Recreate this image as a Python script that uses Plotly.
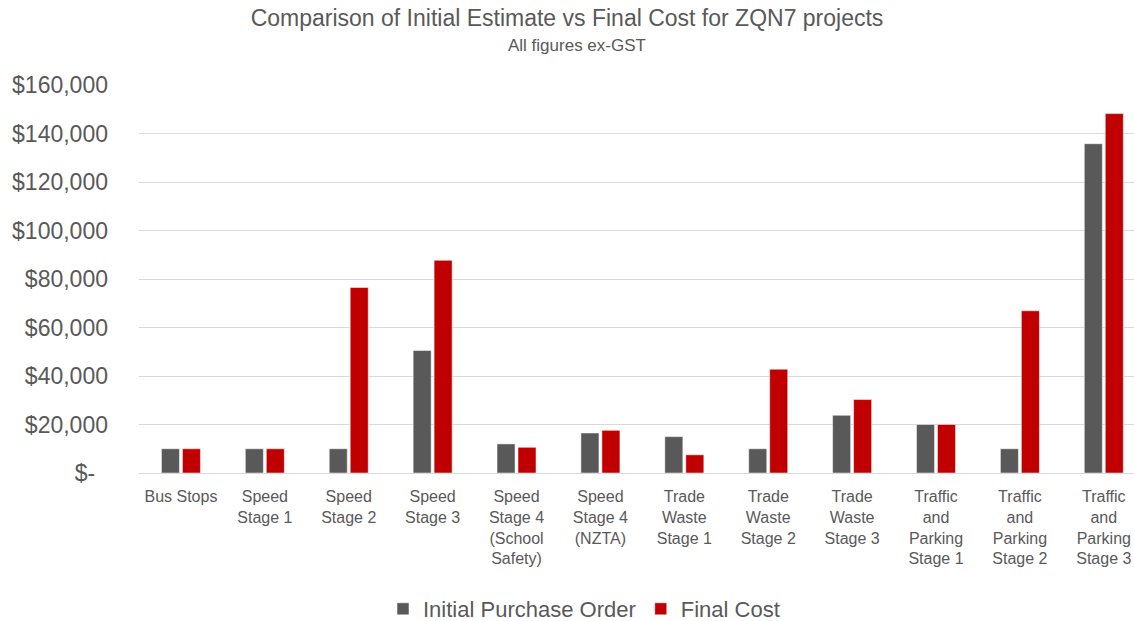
import plotly.graph_objects as go

categories = ["Bus Stops", "Speed Stage 1", "Speed Stage 2", "Speed Stage 3",
              "Speed Stage 4 (School Safety)", "Speed Stage 4 (NZTA)",
              "Trade Waste Stage 1", "Trade Waste Stage 2", "Trade Waste Stage 3",
              "Traffic and Parking Stage 1", "Traffic and Parking Stage 2",
              "Traffic and Parking Stage 3"]
tick_labels = ["Bus Stops", "Speed<br>Stage 1", "Speed<br>Stage 2", "Speed<br>Stage 3",
               "Speed<br>Stage 4<br>(School<br>Safety)", "Speed<br>Stage 4<br>(NZTA)",
               "Trade<br>Waste<br>Stage 1", "Trade<br>Waste<br>Stage 2", "Trade<br>Waste<br>Stage 3",
               "Traffic<br>and<br>Parking<br>Stage 1", "Traffic<br>and<br>Parking<br>Stage 2",
               "Traffic<br>and<br>Parking<br>Stage 3"]
initial_po = [10000, 10000, 10000, 50500, 12000, 16500, 15000, 10000, 23800, 20000, 10000, 135800]
final_cost = [10000, 10000, 76500, 87700, 10600, 17600, 7500, 42800, 30300, 20000, 66900, 148200]
y_ticks = [0, 20000, 40000, 60000, 80000, 100000, 120000, 140000, 160000]
y_tick_text = ["$-\u00a0\u00a0", "$20,000", "$40,000", "$60,000", "$80,000",
               "$100,000", "$120,000", "$140,000", "$160,000"]

FONT = "Liberation Sans, Arial"
TXT = "#595959"

fig = go.Figure()
fig.add_trace(go.Bar(name="Initial Purchase Order", x=categories, y=initial_po,
                     marker=dict(color="#595959", line=dict(color="rgba(255,255,255,0.5)", width=1))))
fig.add_trace(go.Bar(name="Final Cost", x=categories, y=final_cost,
                     marker=dict(color="#C00000", line=dict(color="rgba(255,255,255,0.5)", width=1))))

fig.update_layout(
    width=1134, height=621,
    margin=dict(l=139, r=0, t=85, b=148, autoexpand=False),
    paper_bgcolor="white", plot_bgcolor="white",
    barmode="group", bargap=0.5, bargroupgap=0.14,
    font=dict(family=FONT, color=TXT),
    title=dict(text="Comparison of Initial Estimate vs Final Cost for ZQN7 projects",
               x=0.5, xanchor="center", y=1 - 18 / 621, yanchor="middle",
               font=dict(size=23, color=TXT, family=FONT)),
    annotations=[dict(text="All figures ex-GST", xref="paper", yref="paper",
                      x=(577 - 139) / 995, y=(473 - 46) / 388, xanchor="center", yanchor="middle",
                      showarrow=False, font=dict(size=17, color=TXT, family=FONT))],
    legend=dict(orientation="h", x=(584 - 139) / 995, xanchor="center", yref="paper",
                y=(473 - 609) / 388, yanchor="middle",
                font=dict(size=22, color=TXT, family=FONT), traceorder="normal"),
    xaxis=dict(tickmode="array", tickvals=categories, ticktext=tick_labels,
               range=[-0.5, 11.36], showgrid=False, showline=False, ticks="",
               automargin=False, ticklabelstandoff=12,
               tickfont=dict(size=16, color=TXT, family=FONT), tickangle=0),
    yaxis=dict(range=[0, 160000], tickmode="array", tickvals=y_ticks, ticktext=y_tick_text,
               showgrid=True, gridcolor="#D9D9D9", gridwidth=1, zeroline=True,
               zerolinecolor="#D9D9D9", zerolinewidth=1, showline=False, ticks="",
               ticklabelstandoff=30, automargin=False,
               tickfont=dict(size=23, color=TXT, family=FONT)),
)

fig.write_html("out.html", config={"displayModeBar": False},
               post_script="document.body.style.margin='0';document.body.style.overflow='hidden';")
